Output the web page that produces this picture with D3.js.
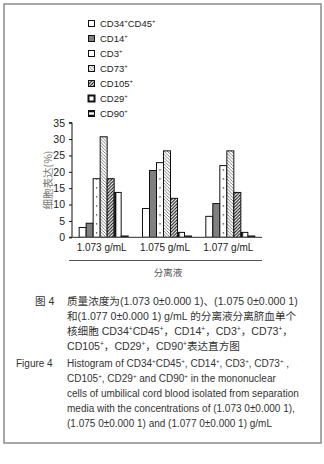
<!DOCTYPE html>
<html><head><meta charset="utf-8">
<script src="https://cdn.jsdelivr.net/npm/d3@7"></script>
<style>
html,body{margin:0;padding:0;background:#fff;}
svg{display:block;font-family:"Liberation Sans",Arial,"Noto Sans CJK SC",sans-serif;}
</style></head>
<body>
<svg id="c" width="324" height="464"></svg>
<script>
// ---- data ----
const groups = ["1.073 g/mL", "1.075 g/mL", "1.077 g/mL"];
const seriesNames = ["CD34^+CD45^+", "CD14^+", "CD3^+", "CD73^+", "CD105^+", "CD29^+", "CD90^+"];
const valuesCD34CD45 = [3.0, 8.8, 6.4];
const valuesCD14 = [4.3, 20.4, 10.3];
const valuesCD3 = [17.9, 22.8, 21.9];
const valuesCD73 = [30.7, 26.4, 26.4];
const valuesCD105 = [17.9, 11.9, 13.7];
const valuesCD29 = [13.7, 1.5, 1.5];
const valuesCD90 = [0.4, 0.4, 0.4];
const seriesValues = [valuesCD34CD45, valuesCD14, valuesCD3, valuesCD73, valuesCD105, valuesCD29, valuesCD90];
const yTicks = [0, 5, 10, 15, 20, 25, 30, 35];
const yTitle = "细胞表达(%)";
const xTitle = "分离液";
const captionCN = [
  ["图 4", "质量浓度为(1.073 0±0.000 1)、(1.075 0±0.000 1)"],
  ["", "和(1.077 0±0.000 1) g/mL 的分离液分离脐血单个"],
  ["", "核细胞 CD34^+CD45^+，CD14^+，CD3^+，CD73^+，"],
  ["", "CD105^+，CD29^+，CD90^+表达直方图"]
];
const captionEN = [
  ["Figure 4", "Histogram of CD34^+CD45^+, CD14^+, CD3^+, CD73^+ ,"],
  ["", "CD105^+, CD29^+ and CD90^+ in the mononuclear"],
  ["", "cells of umbilical cord blood isolated from separation"],
  ["", "media with the concentrations of (1.073 0±0.000 1),"],
  ["", "(1.075 0±0.000 1) and (1.077 0±0.000 1) g/mL"]
];

const svg = d3.select("#c");
svg.append("rect").attr("x",4).attr("y",4).attr("width",317).attr("height",439)
  .attr("fill","none").attr("stroke","#8a8a8a").attr("stroke-width",1.5);

// helper: text with ^+ superscripts
function richText(sel, str, size){
  sel.attr("font-size", size);
  const parts = str.split(/(\^\+)/).filter(p=>p);
  const up = size*0.38;
  let shifted = false;
  parts.forEach(p=>{
    if(p==="^+"){
      sel.append("tspan").attr("dy", -up).attr("font-size", size*0.62).text("+");
      shifted = true;
    } else {
      const t = sel.append("tspan").text(p);
      if(shifted){ t.attr("dy", up); shifted = false; }
    }
  });
}

// scales
const x0 = d3.scaleBand().domain(groups).range([72, 262]).paddingInner(0.226).paddingOuter(0.113);
const x1 = d3.scaleBand().domain(d3.range(seriesNames.length)).range([0, x0.bandwidth()]);
const y = d3.scaleLinear().domain([0, 35]).range([237.3, 122.7]);

// patterns
const defs = svg.append("defs");
const bw = x1.bandwidth();
const step = x0.step();
// dotted (CD3)
const pDot = defs.append("pattern").attr("id","pDot").attr("patternUnits","userSpaceOnUse")
  .attr("x", x0(groups[0]) + x1(2)).attr("y", y(0)).attr("width", step).attr("height", 9);
pDot.append("rect").attr("width",step).attr("height",9).attr("fill","#fff");
pDot.append("rect").attr("x", bw/2 - 0.6).attr("y", 4).attr("width",1.2).attr("height",1.2).attr("fill","#111");
// light hatch (CD73) "\\"
const pH1 = defs.append("pattern").attr("id","pH1").attr("patternUnits","userSpaceOnUse")
  .attr("width",3.2).attr("height",3.2);
pH1.append("rect").attr("width",3.2).attr("height",3.2).attr("fill","#fff");
pH1.append("path").attr("d","M-1,-1 L4.2,4.2 M-1,2.2 L1,4.2 M2.2,-1 L4.2,1").attr("stroke","#666").attr("stroke-width",0.8);
// bold hatch (CD105) "//"
const pH2 = defs.append("pattern").attr("id","pH2").attr("patternUnits","userSpaceOnUse")
  .attr("width",3.2).attr("height",3.2);
pH2.append("rect").attr("width",3.2).attr("height",3.2).attr("fill","#fff");
pH2.append("path").attr("d","M-1,4.2 L4.2,-1 M-1,1 L1,-1 M2.2,4.2 L4.2,2.2").attr("stroke","#111").attr("stroke-width",1);
// CD29: thick left stripe
const pV = defs.append("pattern").attr("id","pV").attr("patternUnits","userSpaceOnUse")
  .attr("x", x0(groups[0]) + x1(5)).attr("y",0).attr("width", step).attr("height", 10);
pV.append("rect").attr("width",step).attr("height",10).attr("fill","#fff");
pV.append("rect").attr("x",0).attr("width",2.2).attr("height",10).attr("fill","#111");

const fills = ["#fff", "#808080", "url(#pDot)", "url(#pH1)", "url(#pH2)", "url(#pV)", "#111"];
const legendFills = ["#fff", "#808080", "#fff", "url(#pH1)", "url(#pH2)", "#fff", "#fff"];

// y axis
const yAxis = svg.append("g").attr("transform","translate(72,0)")
  .call(d3.axisLeft(y).tickValues(yTicks).tickSize(3).tickPadding(4));
yAxis.select(".domain").attr("stroke","#111").attr("d", `M-3,${y(35)}H0V${y(0)}H-3`);
yAxis.selectAll(".tick line").attr("stroke","#111");
yAxis.selectAll("text").attr("font-size",10.5).attr("fill","#222")
  .attr("font-family",'"Liberation Sans",Arial,sans-serif');

// bars
const g = svg.append("g");
groups.forEach((grp, gi)=>{
  seriesNames.forEach((s, si)=>{
    const v = seriesValues[si][gi];
    g.append("rect")
      .attr("x", x0(grp) + x1(si)).attr("y", y(v))
      .attr("width", bw).attr("height", y(0)-y(v))
      .attr("fill", fills[si]).attr("stroke","#111").attr("stroke-width",1);
  });
});

// x axis line
svg.append("line").attr("x1",72).attr("x2",262).attr("y1",y(0)).attr("y2",y(0))
  .attr("stroke","#555").attr("stroke-width",1.2);
// x labels
groups.forEach(grp=>{
  svg.append("text").attr("x", x0(grp)+x0.bandwidth()/2 - 2).attr("y", 251)
    .attr("text-anchor","middle").attr("font-size",10).attr("fill","#222").text(grp);
});
// separator line under labels
svg.append("line").attr("x1",69).attr("x2",262).attr("y1",260.5).attr("y2",260.5)
  .attr("stroke","#555").attr("stroke-width",1);
svg.append("text").attr("x",168).attr("y",275.5).attr("text-anchor","middle")
  .attr("font-size",9.5).attr("fill","#555").attr("font-family",'"Noto Sans CJK SC",sans-serif').text(xTitle);
// y title
svg.append("text").attr("transform","translate(52,180) rotate(-90)").attr("text-anchor","middle")
  .attr("font-size",10.5).attr("fill","#777").attr("font-family",'"Noto Sans CJK SC",sans-serif').text(yTitle);

// legend
const lg = svg.append("g");
seriesNames.forEach((s, i)=>{
  const cy = 23.5 + i*15;
  lg.append("rect").attr("x",88.5).attr("y",cy-3).attr("width",6).attr("height",6)
    .attr("fill",legendFills[i]).attr("stroke","#111").attr("stroke-width", i===5 ? 2 : 1);
  if(i===6){
    lg.append("rect").attr("x",88.5).attr("y",cy-3).attr("width",6).attr("height",1.8).attr("fill","#111");
    lg.append("rect").attr("x",88.5).attr("y",cy+1.2).attr("width",6).attr("height",1.8).attr("fill","#111");
  }
  const t = lg.append("text").attr("x",100).attr("y",cy+3.5).attr("fill","#222");
  richText(t, s, 9.5);
});

// captions
function caption(lines, y0, dy, size){
  lines.forEach((ln, i)=>{
    const yy = y0 + i*dy;
    if(ln[0]) svg.append("text").attr("x", ln[0].startsWith("Figure")?16:35).attr("y",yy)
      .attr("font-size",size).attr("fill","#333").text(ln[0]);
    const t = svg.append("text").attr("x",67).attr("y",yy).attr("fill","#333");
    richText(t, ln[1], size);
  });
}
caption(captionCN, 304.5, 15.3, 10.6);
caption(captionEN, 366.5, 15, 10);
</script>
</body></html>
